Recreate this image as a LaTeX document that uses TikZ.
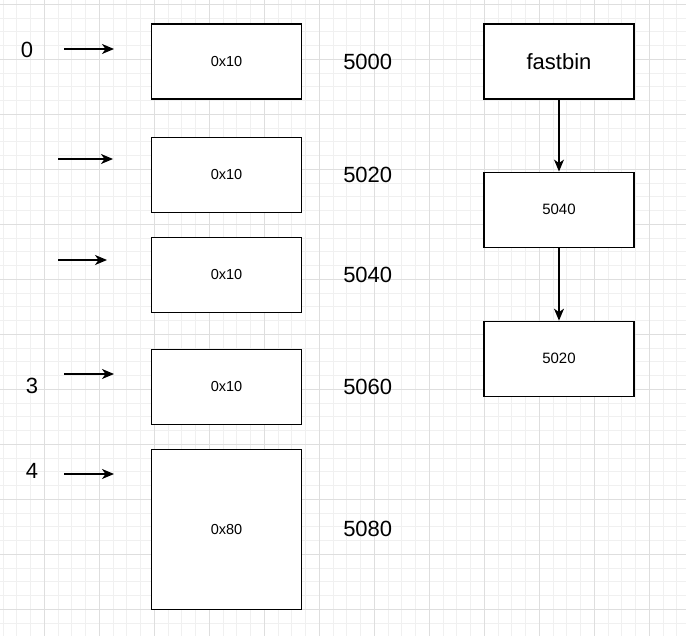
\documentclass[tikz,border=0pt]{standalone}
\usepackage{fontspec}
\setmainfont{Liberation Sans}
\usetikzlibrary{arrows.meta,positioning}
\definecolor{gridmajor}{RGB}{222,222,222}
\definecolor{gridminor}{RGB}{240,240,240}

\begin{document}
\begin{tikzpicture}[x=1pt,y=-1pt,
  chunk/.style={draw=black, fill=white, line width=1.1pt, minimum width=150pt,
                minimum height=75pt, inner sep=0pt, font=\fontsize{14.5}{16}\selectfont},
  addr/.style={inner sep=0pt, font=\fontsize{22}{26}\selectfont},
  idx/.style={inner sep=0pt, font=\fontsize{22}{26}\selectfont},
  arr/.style={-{Stealth[length=12pt,width=10pt,inset=3.5pt]}, line width=1.1pt}
]
  % background grid
  \fill[white] (0,0) rectangle (686,636);
  \useasboundingbox (0,0) rectangle (686,636);
  \foreach \x in {3.05,16.8,...,686} \draw[gridminor, line width=0.8pt] (\x,0) -- (\x,636);
  \foreach \y in {4.3,18.05,...,636} \draw[gridminor, line width=0.8pt] (0,\y) -- (686,\y);
  \foreach \x in {44.3,99.3,...,686} \draw[gridmajor, line width=0.8pt] (\x,0) -- (\x,636);
  \foreach \y in {4.3,59.3,...,636} \draw[gridmajor, line width=0.8pt] (0,\y) -- (686,\y);

  % chunks
  \node[chunk] (c0) at (226.5,61.5) {0x10};
  \node[chunk, below=37pt of c0] (c1) {0x10};
  \node[chunk, below=24pt of c1] (c2) {0x10};
  \node[chunk, below=36pt of c2] (c3) {0x10};
  \node[chunk, below=24pt of c3, minimum height=160pt] (c4) {0x80};

  % addresses
  \node[addr, right=41pt of c0] (a0) {5000};
  \node[addr, right=41pt of c1] (a1) {5020};
  \node[addr, right=41pt of c2] (a2) {5040};
  \node[addr, right=41pt of c3] (a3) {5060};
  \node[addr, right=41pt of c4] (a4) {5080};

  % indices
  \node[idx] (i0) at (27,50) {0};
  \node[idx] (i3) at (32,386) {3};
  \node[idx] (i4) at (32,471) {4};

  \coordinate (s0) at (64,49);  \coordinate (e0) at (114,49);
  \coordinate (s1) at (58,159); \coordinate (e1) at (113,159);
  \coordinate (s2) at (58,260); \coordinate (e2) at (107,260);
  \coordinate (s3) at (64,374); \coordinate (e3) at (114,374);
  \coordinate (s4) at (64,474); \coordinate (e4) at (114,474);
  \foreach \i in {0,...,4} \draw[arr] (s\i) -- (e\i);

  % fastbin list
  \node[chunk, font=\fontsize{22}{26}\selectfont] (fb) at (559,61.5) {fastbin};
  \node[chunk, font=\fontsize{15}{18}\selectfont, below=72pt of fb] (b1) {5040};
  \node[chunk, font=\fontsize{15}{18}\selectfont, below=73pt of b1] (b2) {5020};
  \draw[arr] (fb) -- (b1);
  \draw[arr] (b1) -- (b2);
\end{tikzpicture}
\end{document}
